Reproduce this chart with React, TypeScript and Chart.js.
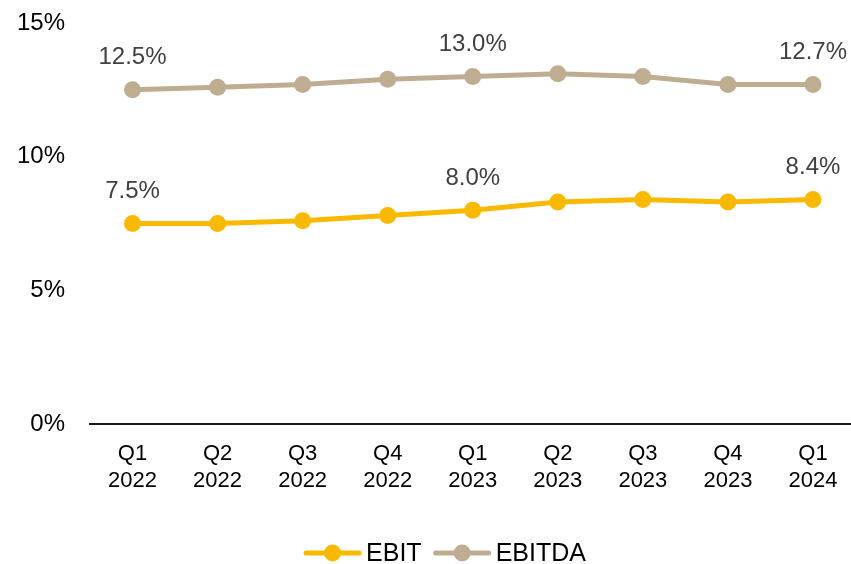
import React, { useEffect, useRef } from "react";
import { Chart, registerables } from "chart.js";

Chart.register(...registerables);

const CATEGORIES: string[][] = [
  ["Q1", "2022"], ["Q2", "2022"], ["Q3", "2022"], ["Q4", "2022"],
  ["Q1", "2023"], ["Q2", "2023"], ["Q3", "2023"], ["Q4", "2023"],
  ["Q1", "2024"],
];
const EBIT: number[] = [7.5, 7.5, 7.6, 7.8, 8.0, 8.3, 8.4, 8.3, 8.4];
const EBITDA: number[] = [12.5, 12.6, 12.7, 12.9, 13.0, 13.1, 13.0, 12.7, 12.7];
const LABEL_INDEXES: number[] = [0, 4, 8];
const Y_MIN = 0;
const Y_MAX = 15;
const Y_STEP = 5;

const EBIT_COLOR = "#F9B900";
const EBITDA_COLOR = "#BEAD91";
const FONT = '"Liberation Sans", Arial, sans-serif';

const pointLabelPlugin = {
  id: "pointLabels",
  afterDatasetsDraw(chart: any) {
    const ctx = chart.ctx;
    chart.data.datasets.forEach((ds: any, di: number) => {
      const meta = chart.getDatasetMeta(di);
      LABEL_INDEXES.forEach((i) => {
        const el = meta.data[i];
        if (!el) return;
        ctx.save();
        ctx.font = `24px ${FONT}`;
        ctx.fillStyle = "#404040";
        ctx.textAlign = "center";
        ctx.textBaseline = "middle";
        ctx.fillText(Number(ds.data[i]).toFixed(1) + "%", el.x, el.y - 32);
        ctx.restore();
      });
    });
  },
};

// Legend drawn as line-with-marker items (Excel style)
const customLegendPlugin = {
  id: "customLegend",
  afterDraw(chart: any) {
    const ctx = chart.ctx;
    const y = 553;
    const markerW = 57;
    const gapText = 5;
    const gapItem = 12;
    ctx.save();
    ctx.font = `25px ${FONT}`;
    const items = chart.data.datasets.map((ds: any) => ({
      text: ds.label,
      color: ds.borderColor,
      w: ctx.measureText(ds.label).width,
    }));
    const total = items.reduce((a: number, it: any) => a + markerW + gapText + it.w, 0) + gapItem * (items.length - 1);
    let x = 445 - total / 2;
    items.forEach((it: any) => {
      ctx.strokeStyle = it.color;
      ctx.lineWidth = 5;
      ctx.lineCap = "round";
      ctx.beginPath();
      ctx.moveTo(x + 2, y);
      ctx.lineTo(x + markerW - 2, y);
      ctx.stroke();
      ctx.fillStyle = it.color;
      ctx.beginPath();
      ctx.arc(x + markerW / 2, y, 8.5, 0, Math.PI * 2);
      ctx.fill();
      ctx.fillStyle = "#000";
      ctx.textAlign = "left";
      ctx.textBaseline = "middle";
      ctx.fillText(it.text, x + markerW + gapText, y + 1);
      x += markerW + gapText + it.w + gapItem;
    });
    ctx.restore();
  },
};

export default function App() {
  const ref = useRef<HTMLCanvasElement>(null);
  useEffect(() => {
    const canvas = ref.current!;
    const chart = new Chart(canvas, {
      type: "line",
      data: {
        labels: CATEGORIES,
        datasets: [
          {
            label: "EBIT",
            data: EBIT,
            borderColor: EBIT_COLOR,
            backgroundColor: EBIT_COLOR,
            borderWidth: 5,
            pointRadius: 8.5,
            pointHoverRadius: 8.5,
            pointBorderWidth: 0,
            tension: 0,
          },
          {
            label: "EBITDA",
            data: EBITDA,
            borderColor: EBITDA_COLOR,
            backgroundColor: EBITDA_COLOR,
            borderWidth: 5,
            pointRadius: 8.5,
            pointHoverRadius: 8.5,
            pointBorderWidth: 0,
            tension: 0,
          },
        ],
      },
      options: {
        responsive: false,
        animation: false,
        devicePixelRatio: 1,
        layout: { padding: { top: 23, right: 1, bottom: 27, left: 0 } },
        scales: {
          x: {
            offset: true,
            grid: { display: false, drawTicks: false },
            border: { display: true, color: "#1a1a1a", width: 2 },
            ticks: {
              color: "#000",
              font: { family: FONT, size: 22, lineHeight: 1.22 },
              padding: 17,
              maxRotation: 0,
              autoSkip: false,
            },
            afterFit: (s: any) => { s.height = 113; s.paddingLeft = 0; s.paddingRight = 0; },
          },
          y: {
            min: Y_MIN,
            max: Y_MAX,
            grid: { display: false, drawTicks: false },
            border: { display: false },
            ticks: {
              stepSize: Y_STEP,
              color: "#000",
              font: { family: FONT, size: 24 },
              padding: 25,
              callback: (v: any) => v + "%",
            },
            afterFit: (s: any) => { s.width = 90; s.paddingTop = 0; s.paddingBottom = 0; },
          },
        },
        plugins: {
          tooltip: { enabled: false },
          legend: { display: false },
        },
      },
      plugins: [pointLabelPlugin, customLegendPlugin],
    });
    return () => chart.destroy();
  }, []);
  return (
    <div style={{ position: "fixed", left: 0, top: 0, width: 851, height: 564, overflow: "hidden", background: "#fff" }}>
      <canvas ref={ref} width={864} height={564} style={{ display: "block", width: 864, height: 564 }} />
    </div>
  );
}
